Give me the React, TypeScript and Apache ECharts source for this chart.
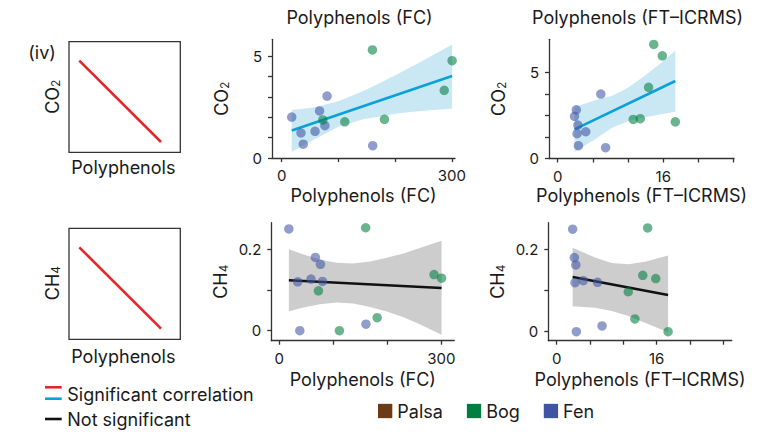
import React, { useEffect, useRef } from "react";
import * as echarts from "echarts";

// ---------- data ----------
// Polyphenols (FC) x values
const fcFenX = [17.7, 34, 38, 58.8, 66.8, 76.2, 80, 160.5];
const fcBogX = [72.5, 111.3, 160, 181.2, 286.6, 300.5];
// Polyphenols (FT–ICRMS) x values
const ftFenX = [2.55, 2.82, 3.06, 2.93, 4.25, 3.14, 6.53, 7.26];
const ftBogX = [14.55, 15.85, 13.77, 11.45, 12.51, 17.82];

// CO2 vs FC
const co2FenFC = [2.01, 1.23, 0.68, 1.31, 2.31, 1.59, 3.04, 0.61];
const co2BogFC = [1.87, 1.78, 5.3, 1.9, 3.32, 4.77];
// CH4 vs FC
const ch4FenFC = [0.25, 0.12, 0.0, 0.127, 0.18, 0.163, 0.121, 0.016];
const ch4BogFC = [0.098, 0.0, 0.253, 0.032, 0.138, 0.129];
// CO2 vs FT-ICRMS
const co2FenFT = [2.46, 2.84, 1.95, 1.45, 1.56, 0.75, 3.76, 0.63];
const co2BogFT = [6.65, 5.99, 4.15, 2.28, 2.32, 2.14];
// CH4 vs FT-ICRMS
const ch4FenFT = [0.249, 0.18, 0.162, 0.119, 0.124, 0.0, 0.12, 0.014];
const ch4BogFT = [0.252, 0.129, 0.137, 0.097, 0.031, 0.0];

// regression lines [x1, y1, x2, y2]
const fitCo2FC = [17.7, 1.35, 300.5, 4.02];
const fitCo2FT = [2.55, 1.7, 17.82, 4.52];
const fitCh4FC = [17.7, 0.124, 300.5, 0.105];
const fitCh4FT = [2.55, 0.133, 17.82, 0.089];

// confidence bands
const bandCo2FCX = [17.7, 55.7, 99.8, 143.9, 173.4, 202.8, 232.1, 261.6, 300.5];
const bandCo2FCUp = [2.36, 2.48, 2.79, 3.29, 3.68, 4.1, 4.52, 4.96, 5.56];
const bandCo2FCLo = [0.31, 0.89, 1.53, 1.9, 2.04, 2.18, 2.27, 2.34, 2.43];

const bandCo2FTX = [2.55, 5.65, 8.18, 10.7, 13.2, 15.7, 17.82];
const bandCo2FTUp = [3.0, 3.4, 3.65, 4.14, 4.82, 5.59, 6.3];
const bandCo2FTLo = [0.38, 1.12, 1.78, 2.18, 2.4, 2.58, 2.72];

const bandCh4FCX = [17.7, 45, 75, 106, 137, 168, 199, 230, 260, 300.5];
const bandCh4FCUp = [0.2, 0.187, 0.175, 0.167, 0.165, 0.17, 0.179, 0.19, 0.203, 0.221];
const bandCh4FCLo = [0.048, 0.057, 0.065, 0.069, 0.067, 0.058, 0.047, 0.033, 0.016, -0.01];

const bandCh4FTX = [2.55, 6.13, 8.8, 11.47, 14.13, 17.82];
const bandCh4FTUp = [0.204, 0.18, 0.167, 0.164, 0.17, 0.185];
const bandCh4FTLo = [0.062, 0.058, 0.05, 0.038, 0.022, -0.001];

// ticks
const fcTicks = [0, 100, 200, 300];
const fcLabels = [0, 300];
const ftTicks = [0, 5.333, 10.667, 16, 21.333, 26.667];
const ftLabels = [0, 16];
const co2FCTicks = [0, 1, 2, 3, 4, 5];
const co2FTTicks = [0, 1.25, 2.5, 3.75, 5];
const co2Labels = [0, 5];
const ch4Ticks = [0, 0.1, 0.2];
const ch4Labels = [0, 0.2];

const sites = ["Palsa", "Bog", "Fen"];

// ---------- styles ----------
const FONT = "Inter";
const FS = 18;
const TXT = "#1a1a1a";
const AX = "#333333";
const COL = { Palsa: "#6b3a17", Bog: "#007d40", Fen: "#4054a4" };
const SIG = "#0aa0d8";
const SIG_BAND = "#c9e8f4";
const NS = "#111111";
const NS_BAND = "#cdcdcd";
const RED = "#e3262b";

const zip = (a: number[], b: number[]) => a.map((v, i) => [v, b[i]]);

export default function App() {
  const ref = useRef<HTMLDivElement>(null);

  useEffect(() => {
    const chart = echarts.init(ref.current!, null, { renderer: "svg" });

    const grids = [
      { left: 272, top: 39.3, width: 183, height: 118.8 },
      { left: 549, top: 39.3, width: 185, height: 119.2 },
      { left: 271.3, top: 222.7, width: 183, height: 118 },
      { left: 548.3, top: 222.7, width: 183.4, height: 118 },
    ];

    const xDef = (gi: number, min: number, max: number, ticks: number[], labels: number[], name: string, gap: number) => ({
      type: "value",
      gridIndex: gi,
      min,
      max,
      name,
      nameLocation: "middle",
      nameGap: gap,
      nameTextStyle: { fontSize: FS, color: TXT, fontFamily: FONT },
      axisLine: { show: true, onZero: false, lineStyle: { color: AX, width: 1.3 } },
      axisTick: { show: true, length: 4, customValues: ticks, lineStyle: { color: AX, width: 1.3 } },
      axisLabel: { customValues: labels, fontSize: 15, color: TXT, margin: 10, fontFamily: FONT },
      splitLine: { show: false },
    });
    const yDef = (gi: number, min: number, max: number, ticks: number[], labels: number[], name: string) => ({
      type: "value",
      gridIndex: gi,
      min,
      max,
      name,
      nameLocation: "middle",
      nameRotate: 90,
      nameGap: 42,
      nameTextStyle: {
        fontSize: FS,
        color: TXT,
        fontFamily: FONT,
        rich: { s: { fontSize: 12, color: TXT, fontFamily: FONT, verticalAlign: "bottom" } },
      },
      axisLine: { show: true, onZero: false, lineStyle: { color: AX, width: 1.3 } },
      axisTick: { show: true, length: 4, customValues: ticks, lineStyle: { color: AX, width: 1.3 } },
      axisLabel: { customValues: labels, fontSize: 15, color: TXT, margin: 10, fontFamily: FONT },
      splitLine: { show: false },
    });

    const band = (gi: number, xs: number[], up: number[], lo: number[], fill: string) => ({
      type: "custom",
      xAxisIndex: gi,
      yAxisIndex: gi,
      silent: true,
      z: 1,
      data: [[xs[0], lo[0]]],
      renderItem: (_p: any, api: any) => {
        const pts: number[][] = [];
        for (let j = 0; j < xs.length; j++) pts.push(api.coord([xs[j], up[j]]));
        for (let j = xs.length - 1; j >= 0; j--) pts.push(api.coord([xs[j], lo[j]]));
        return { type: "polygon", shape: { points: pts }, style: { fill, stroke: "none" } };
      },
    });
    const fit = (gi: number, f: number[], color: string) => ({
      type: "line",
      xAxisIndex: gi,
      yAxisIndex: gi,
      silent: true,
      z: 2,
      showSymbol: false,
      data: [
        [f[0], f[1]],
        [f[2], f[3]],
      ],
      lineStyle: { color, width: 2.6 },
    });
    const pts = (gi: number, name: "Bog" | "Fen", xs: number[], ys: number[]) => ({
      type: "scatter",
      name,
      xAxisIndex: gi,
      yAxisIndex: gi,
      z: 3,
      symbolSize: 9.5,
      data: zip(xs, ys),
      itemStyle: { color: COL[name], opacity: 0.58 },
    });

    const text = (x: number, y: number, t: string, extra: any = {}) => ({
      type: "text",
      x,
      y,
      silent: true,
      style: {
        text: t,
        fill: TXT,
        fontSize: FS,
        fontFamily: FONT,
        textAlign: "center",
        align: "center",
        textVerticalAlign: "middle",
        verticalAlign: "middle",
        ...extra,
      },
    });
    const rotText = (x: number, y: number, t: string) => ({
      ...text(x, y, t, { rich: { s: { fontSize: 12, fill: TXT, fontFamily: FONT, verticalAlign: "bottom" } } }),
      rotation: Math.PI / 2,
    });
    const hline = (x1: number, x2: number, y: number, color: string) => ({
      type: "line",
      silent: true,
      shape: { x1, y1: y, x2, y2: y },
      style: { stroke: color, lineWidth: 2.6 },
    });

    const option: any = {
      animation: false,
      textStyle: { fontFamily: FONT },
      grid: grids.map((g) => ({ ...g, containLabel: false })),
      xAxis: [
        xDef(0, -17.1, 305.6, fcTicks, fcLabels, "Polyphenols (FC)", 28),
        xDef(1, -1.32, 26.71, ftTicks, ftLabels, "Polyphenols (FT\u2013ICRMS)", 28),
        xDef(2, -14.8, 324.1, fcTicks, fcLabels, "Polyphenols (FC)", 30),
        xDef(3, -1.344, 28.0, ftTicks, ftLabels, "Polyphenols (FT\u2013ICRMS)", 30),
      ],
      yAxis: [
        yDef(0, 0, 5.82, co2FCTicks, co2Labels, "CO{s|2}"),
        yDef(1, 0, 6.95, co2FTTicks, co2Labels, "CO{s|2}"),
        yDef(2, -0.0246, 0.2654, ch4Ticks, ch4Labels, "CH{s|4}"),
        yDef(3, -0.0218, 0.2646, ch4Ticks, ch4Labels, "CH{s|4}"),
      ],
      legend: {
        data: sites.map((s) => ({ name: s, itemStyle: { opacity: 1 } })),
        left: 373,
        top: 397,
        icon: "rect",
        itemWidth: 14.3,
        itemHeight: 14.3,
        itemGap: 24,
        selectedMode: false,
        itemStyle: { opacity: 1 },
        textStyle: { fontSize: FS, color: TXT, fontFamily: FONT },
      },
      series: [
        { type: "scatter", name: "Palsa", xAxisIndex: 0, yAxisIndex: 0, data: [], itemStyle: { color: COL.Palsa } },
        band(0, bandCo2FCX, bandCo2FCUp, bandCo2FCLo, SIG_BAND),
        fit(0, fitCo2FC, SIG),
        pts(0, "Fen", fcFenX, co2FenFC),
        pts(0, "Bog", fcBogX, co2BogFC),
        band(1, bandCo2FTX, bandCo2FTUp, bandCo2FTLo, SIG_BAND),
        fit(1, fitCo2FT, SIG),
        pts(1, "Fen", ftFenX, co2FenFT),
        pts(1, "Bog", ftBogX, co2BogFT),
        band(2, bandCh4FCX, bandCh4FCUp, bandCh4FCLo, NS_BAND),
        fit(2, fitCh4FC, NS),
        pts(2, "Fen", fcFenX, ch4FenFC),
        pts(2, "Bog", fcBogX, ch4BogFC),
        band(3, bandCh4FTX, bandCh4FTUp, bandCh4FTLo, NS_BAND),
        fit(3, fitCh4FT, NS),
        pts(3, "Fen", ftFenX, ch4FenFT),
        pts(3, "Bog", ftBogX, ch4BogFT),
      ],
      graphic: [
        // panel titles
        text(359.5, 17.5, "Polyphenols (FC)"),
        text(637.5, 17.5, "Polyphenols (FT\u2013ICRMS)"),
        // schematic (iv)
        text(28.3, 52, "(iv)", { textAlign: "left", align: "left" }),
        {
          type: "rect",
          silent: true,
          shape: { x: 69, y: 41.7, width: 111.3, height: 110.6 },
          style: { fill: "none", stroke: "#333", lineWidth: 1.3 },
        },
        { type: "line", silent: true, shape: { x1: 79.3, y1: 60.7, x2: 161, y2: 142 }, style: { stroke: RED, lineWidth: 2.6 } },
        rotText(52.5, 96.7, "CO{s|2}"),
        text(123.3, 167, "Polyphenols"),
        {
          type: "rect",
          silent: true,
          shape: { x: 69, y: 228.3, width: 111.3, height: 111 },
          style: { fill: "none", stroke: "#333", lineWidth: 1.3 },
        },
        { type: "line", silent: true, shape: { x1: 79.3, y1: 247.3, x2: 161, y2: 328.7 }, style: { stroke: RED, lineWidth: 2.6 } },
        rotText(52.5, 283, "CH{s|4}"),
        text(123.3, 356, "Polyphenols"),
        // line legend
        hline(45, 61.7, 387.3, RED),
        hline(45, 61.7, 398.7, SIG),
        hline(45, 61.7, 419, NS),
        text(67.3, 394, "Significant correlation", { textAlign: "left", align: "left" }),
        text(67.3, 419, "Not significant", { textAlign: "left", align: "left" }),
      ],
    };

    chart.setOption(option);
    return () => chart.dispose();
  }, []);

  return <div ref={ref} style={{ position: "absolute", left: 0, top: 0, width: 759, height: 439 }} />;
}
